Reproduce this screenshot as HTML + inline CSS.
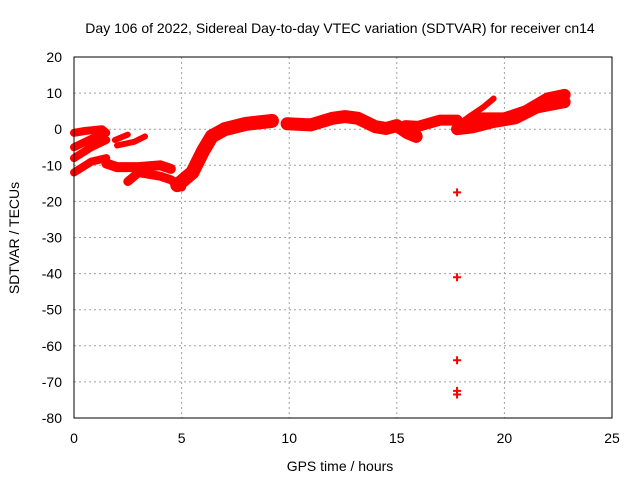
<!DOCTYPE html>
<html><head><meta charset="utf-8"><style>
body{margin:0;background:#fff}
svg{display:block;font-family:"Liberation Sans",sans-serif;font-size:14px}
</style></head><body>
<svg id="c" width="640" height="480">
<rect width="640" height="480" fill="#fff"/>
<g id="grid"></g>
<g id="data"></g>
<rect x="74" y="57" width="538" height="361" fill="none" stroke="#000" stroke-width="1"/>
<g id="ticks"></g>
<text x="340" y="33" text-anchor="middle">Day 106 of 2022, Sidereal Day-to-day VTEC variation (SDTVAR) for receiver cn14</text>
<text x="340" y="471" text-anchor="middle">GPS time / hours</text>
<text x="19" y="238" text-anchor="middle" transform="rotate(-90 19 238)">SDTVAR / TECUs</text>
</svg>
<script>
const xTicks=[0,5,10,15,20,25];
const yTicks=[20,10,0,-10,-20,-30,-40,-50,-60,-70,-80];
const tracks=[
 [[0,-1],[0.5,-0.5],[1.3,0],[1.5,-1]],
 [[0,-5],[0.7,-3],[1.4,-1]],
 [[0,-8],[0.8,-5],[1.5,-3]],
 [[0,-12],[0.8,-9],[1.5,-8]],
 [[1.9,-3],[2.5,-1.5]],
 [[2.0,-4.5],[2.8,-3.5],[3.3,-2]],
 [[1.5,-9.5],[2,-10.5],[3,-10.5],[4,-10],[4.5,-11]],
 [[2.5,-14.5],[3,-12],[4,-13],[4.5,-14],[5,-16]],
 [[4.8,-15.5],[5.5,-12],[6,-6],[6.4,-2],[7,0],[8,1.5],[9.2,2.3]],
 [[9.9,1.5],[11,1.2],[12,3],[12.6,3.5],[13.2,3],[14,0.7],[14.5,0.2],[15,1],[15.5,-1],[15.9,-2]],
 [[15.4,1],[16,0.8],[17,2.5],[17.8,2.5]],
 [[17.9,1.5],[18.5,4],[19,6],[19.5,8.5]],
 [[17.8,0],[18.5,0.5],[19.5,2],[20.5,3],[21.5,6],[22.8,7.5]],
 [[18.5,3],[20,3],[21,5],[22,8.5],[22.8,9.5]]
];
const widths=[8,8,8,8,6,6,10,9,14,13,11,6,12,12];
const outliers=[[17.8,-17.5],[17.8,-41],[17.8,-64],[17.8,-72.5],[17.8,-73.5]];
const X=h=>74+h*538/25, Y=v=>57+(20-v)*361/100;
const NS="http://www.w3.org/2000/svg";
const g=document.getElementById('grid'),t=document.getElementById('ticks'),d=document.getElementById('data');
function el(p,n,a){const e=document.createElementNS(NS,n);for(const k in a)e.setAttribute(k,a[k]);p.appendChild(e);return e;}
xTicks.forEach(v=>{
 if(v>0&&v<25){const l=el(g,'line',{x1:X(v),x2:X(v),y1:57,y2:418,stroke:'#a0a0a0','stroke-dasharray':'2,3'});
 
 }
 const tx=el(t,'text',{x:X(v),y:443,'text-anchor':'middle'});tx.textContent=v;
 
 
});
yTicks.forEach(v=>{
 if(v<20&&v>-80){const l=el(g,'line',{x1:74,x2:612,y1:Y(v),y2:Y(v),stroke:'#a0a0a0','stroke-dasharray':'2,3'});
 
 }
 const tx=el(t,'text',{x:62,y:Y(v)+5,'text-anchor':'end'});tx.textContent=v;
 
 
});
tracks.forEach((tr,i)=>{
 const p=el(d,'polyline',{points:tr.map(q=>X(q[0])+','+Y(q[1])).join(' '),fill:'none',stroke:'#f00','stroke-width':widths[i],'stroke-linejoin':'round','stroke-linecap':'round'});
 
 
});
outliers.forEach(q=>{
 const p=el(d,'path',{d:`M${X(q[0])-4},${Y(q[1])}h8M${X(q[0])},${Y(q[1])-4}v8`,stroke:'#f00','stroke-width':2});
 
 
});
</script>
</body></html>
